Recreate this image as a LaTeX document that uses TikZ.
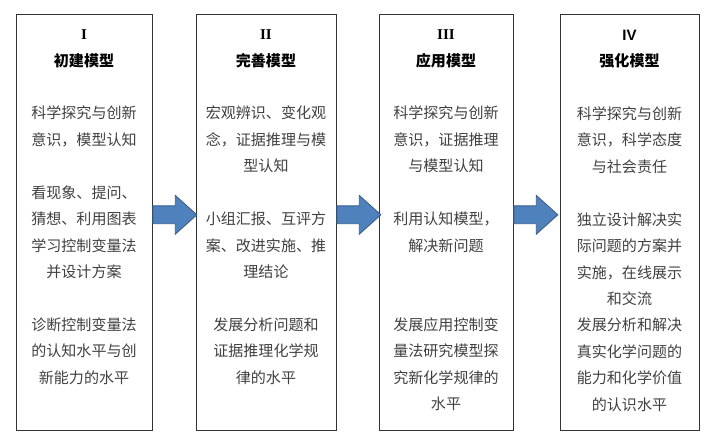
\documentclass[tikz,border=0pt]{standalone}
\usepackage{fontspec}
\setmainfont{Liberation Serif}
\setsansfont{Liberation Sans}
\newfontfamily\cjk{Noto Sans CJK SC}
\usetikzlibrary{positioning,shapes.arrows}
\definecolor{arrowfill}{HTML}{4F81BD}
\definecolor{arrowline}{HTML}{385D8A}

\begin{document}
\begin{tikzpicture}[
        every node/.style={font=\cjk\fontsize{10.7}{18.8}\selectfont},
        stage/.style={draw=black!80, line width=0.6pt, minimum height=10.4cm, inner sep=0pt},
        stagetext/.style={align=center, inner sep=0pt, text=black!75},
        flow/.style={single arrow, draw=arrowline, fill=arrowfill, line width=0.6pt, minimum height=1.1cm, inner xsep=0pt, inner ysep=0.2125cm, single arrow head extend=0.2625cm, single arrow tip angle=84, anchor=west}
    ]
    \useasboundingbox (0,0) rectangle (17.8,11.05);
    \node[stage, minimum width=3.4cm] (b1) at (2.1,5.5) {};
    \node[stage, minimum width=3.5cm] (b2) at (6.65,5.5) {};
    \node[stage, minimum width=3.35cm] (b3) at (11.15,5.5) {};
    \node[stage, minimum width=3.475cm] (b4) at (15.7375,5.5) {};

    \node[stagetext, below=0.4cm of b1.north] (t1) {{\color{black}\rmfamily\bfseries I}\\ {\color{black}\bfseries 初建模型}\\[\baselineskip]
        科学探究与创新\\ 意识，模型认知\\[\baselineskip]
        看现象、提问、\\ 猜想、利用图表\\ 学习控制变量法\\ 并设计方案\\[\baselineskip]
        诊断控制变量法\\ 的认知水平与创\\ 新能力的水平};
    \node[stagetext, below=0.4cm of b2.north] (t2) {{\color{black}\rmfamily\bfseries II}\\ {\color{black}\bfseries 完善模型}\\[\baselineskip]
        宏观辨识、变化观\\ 念，证据推理与模\\ 型认知\\[\baselineskip]
        小组汇报、互评方\\ 案、改进实施、推\\ 理结论\\[\baselineskip]
        发展分析问题和\\ 证据推理化学规\\ 律的水平};
    \node[stagetext, below=0.4cm of b3.north] (t3) {{\color{black}\rmfamily\bfseries III}\\ {\color{black}\bfseries 应用模型}\\[\baselineskip]
        科学探究与创新\\ 意识，证据推理\\ 与模型认知\\[\baselineskip]
        利用认知模型，\\ 解决新问题\\[2\baselineskip]
        发展应用控制变\\ 量法研究模型探\\ 究新化学规律的\\ 水平};
    \node[stagetext, below=0.4cm of b4.north] (t4) {{\color{black}\sffamily\bfseries IV}\\ {\color{black}\bfseries 强化模型}\\[\baselineskip]
        科学探究与创新\\ 意识，科学态度\\ 与社会责任\\[\baselineskip]
        独立设计解决实\\ 际问题的方案并\\ 实施，在线展示\\ 和交流\\
        发展分析和解决\\ 真实化学问题的\\ 能力和化学价值\\ 的认识水平};

    \node[flow] (a1) at ([yshift=0.18cm]b1.east) {};
    \node[flow] (a2) at ([yshift=0.18cm]b2.east) {};
    \node[flow] (a3) at ([yshift=0.18cm]b3.east) {};
\end{tikzpicture}
\end{document}
